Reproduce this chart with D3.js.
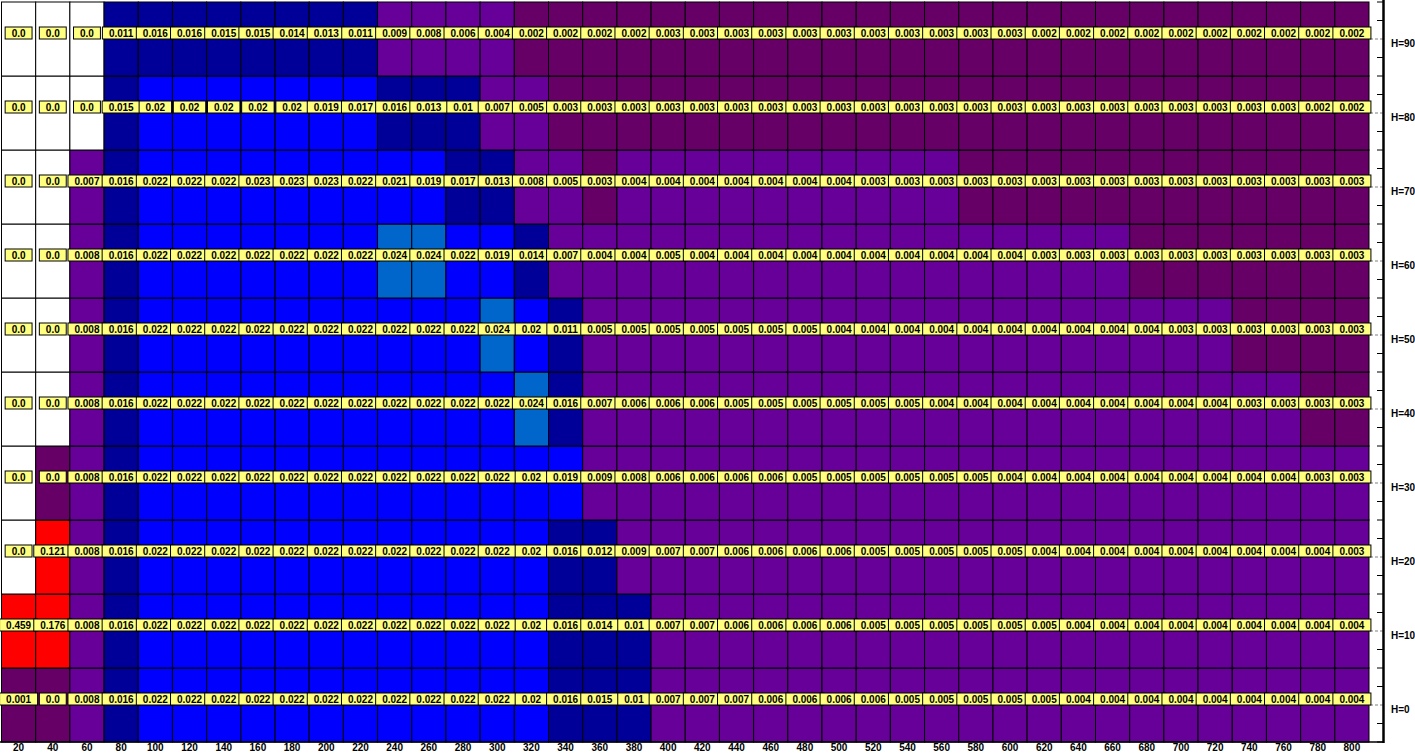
<!DOCTYPE html>
<html>
<head>
<meta charset="utf-8">
<script src="https://cdn.jsdelivr.net/npm/d3@7/dist/d3.min.js"></script>
<style>
html,body{margin:0;padding:0;background:#fff;overflow:hidden}
text{font-family:"Liberation Sans",Arial,sans-serif;font-weight:bold}
</style>
</head>
<body>
<svg id="chart" width="1415" height="753"></svg>
<script>
// ---- data ----
const columns = [20,40,60,80,100,120,140,160,180,200,220,240,260,280,300,320,340,360,380,400,
                 420,440,460,480,500,520,540,560,580,600,620,640,660,680,700,720,740,760,780,800];
const levels = [0,10,20,30,40,50,60,70,80,90];
const levelLabels = ["H=0","H=10","H=20","H=30","H=40","H=50","H=60","H=70","H=80","H=90"];

const rowH90 = [0,0,0,0.011,0.016,0.016,0.015,0.015,0.014,0.013,0.011,0.009,0.008,0.006,0.004,0.002,0.002,0.002,0.002,0.0028,
                0.0028,0.0028,0.0028,0.0028,0.0028,0.0028,0.0028,0.0028,0.0028,0.0028,0.002,0.002,0.002,0.002,0.002,0.002,0.002,0.002,0.002,0.002];
const rowH80 = [0,0,0,0.015,0.02,0.02,0.02,0.02,0.02,0.019,0.0172,0.016,0.013,0.01,0.007,0.005,0.0028,0.0028,0.0028,0.0028,
                0.0028,0.0028,0.0028,0.0028,0.0028,0.0028,0.0028,0.0028,0.0028,0.0028,0.0028,0.0028,0.0028,0.0028,0.0028,0.0028,0.0028,0.0028,0.002,0.002];
const rowH70 = [0,0,0.007,0.016,0.022,0.022,0.022,0.023,0.023,0.023,0.022,0.021,0.019,0.0168,0.013,0.008,0.005,0.0028,0.004,0.004,
                0.004,0.004,0.004,0.004,0.004,0.0032,0.0032,0.0032,0.0028,0.0028,0.0028,0.0028,0.0028,0.0028,0.0028,0.0028,0.0028,0.0028,0.0028,0.0028];
const rowH60 = [0,0,0.008,0.016,0.022,0.022,0.022,0.022,0.022,0.022,0.022,0.024,0.024,0.022,0.019,0.014,0.007,0.004,0.004,0.005,
                0.004,0.004,0.004,0.004,0.004,0.004,0.004,0.004,0.004,0.004,0.0032,0.0032,0.0032,0.0028,0.0028,0.0028,0.0028,0.0028,0.0028,0.0028];
const rowH50 = [0,0,0.008,0.016,0.022,0.022,0.022,0.022,0.022,0.022,0.022,0.022,0.022,0.022,0.024,0.02,0.011,0.005,0.005,0.005,
                0.005,0.005,0.005,0.005,0.004,0.004,0.004,0.004,0.004,0.004,0.004,0.004,0.004,0.004,0.0032,0.0032,0.0028,0.0028,0.0028,0.0028];
const rowH40 = [0,0,0.008,0.016,0.022,0.022,0.022,0.022,0.022,0.022,0.022,0.022,0.022,0.022,0.022,0.024,0.016,0.007,0.006,0.006,
                0.006,0.005,0.005,0.005,0.005,0.005,0.005,0.004,0.004,0.004,0.004,0.004,0.004,0.004,0.004,0.004,0.0032,0.0032,0.0028,0.0028];
const rowH30 = [0,0.0003,0.008,0.016,0.022,0.022,0.022,0.022,0.022,0.022,0.022,0.022,0.022,0.022,0.022,0.02,0.019,0.009,0.008,0.006,
                0.006,0.006,0.006,0.005,0.005,0.005,0.005,0.005,0.005,0.004,0.004,0.004,0.004,0.004,0.004,0.004,0.004,0.004,0.0032,0.0032];
const rowH20 = [0,0.121,0.008,0.016,0.022,0.022,0.022,0.022,0.022,0.022,0.022,0.022,0.022,0.022,0.022,0.02,0.016,0.012,0.009,0.007,
                0.007,0.006,0.006,0.006,0.006,0.005,0.005,0.005,0.005,0.005,0.004,0.004,0.004,0.004,0.004,0.004,0.004,0.004,0.004,0.0032];
const rowH10 = [0.459,0.176,0.008,0.016,0.022,0.022,0.022,0.022,0.022,0.022,0.022,0.022,0.022,0.022,0.022,0.02,0.016,0.014,0.01,0.007,
                0.007,0.006,0.006,0.006,0.006,0.005,0.005,0.005,0.005,0.005,0.005,0.004,0.004,0.004,0.004,0.004,0.004,0.004,0.004,0.004];
const rowH0  = [0.001,0.0003,0.008,0.016,0.022,0.022,0.022,0.022,0.022,0.022,0.022,0.022,0.022,0.022,0.022,0.02,0.016,0.015,0.01,0.007,
                0.007,0.007,0.006,0.006,0.006,0.006,0.005,0.005,0.005,0.005,0.005,0.004,0.004,0.004,0.004,0.004,0.004,0.004,0.004,0.004];

const rowsByLevel = [rowH0,rowH10,rowH20,rowH30,rowH40,rowH50,rowH60,rowH70,rowH80,rowH90];

const colorBreaks = [1e-9, 0.003, 0.0095, 0.017, 0.0235, 0.1];
const colorRange = ["#ffffff","#660066","#660099","#000099","#0000ff","#0066cc","#ff0000"];

// ---- chart ----
const svg = d3.select("#chart");
const x = d3.scaleLinear().domain([10, 810]).range([1.5, 1369]);
const y = d3.scaleLinear().domain([-5, 95]).range([742, 2]);
const color = d3.scaleThreshold().domain(colorBreaks).range(colorRange);
const fmt = v => { let s = d3.format(".3~f")(v); if (s.indexOf(".") < 0) s += ".0"; return s; };

const cells = [];
levels.forEach((h, i) => columns.forEach((c, j) => cells.push({h, c, v: rowsByLevel[i][j]})));

svg.append("g").selectAll("rect").data(cells).join("rect")
  .attr("x", d => x(d.c - 10))
  .attr("y", d => y(d.h + 5))
  .attr("width", d => x(d.c + 10) - x(d.c - 10))
  .attr("height", d => y(d.h - 5) - y(d.h + 5))
  .attr("fill", d => color(d.v))
  .attr("stroke", "#000")
  .attr("stroke-width", 1);

// frame: bottom line + right axis
svg.append("line").attr("x1", 0).attr("x2", 1384).attr("y1", y(-5)).attr("y2", y(-5))
  .attr("stroke", "#000").attr("stroke-width", 1.5);

const axisX = 1383.5;
// major dashed ticks
svg.append("g").selectAll("line").data(levels).join("line")
  .attr("x1", 1370).attr("x2", axisX).attr("y1", d => y(d)).attr("y2", d => y(d))
  .attr("stroke", "#808080").attr("stroke-width", 1.2).attr("stroke-dasharray", "3,2");
// minor ticks
const minor = d3.range(-5, 95.1, 2.5).filter(v => Math.abs(v % 10) > 1e-6);
svg.append("g").selectAll("line").data(minor).join("line")
  .attr("x1", 1377).attr("x2", axisX).attr("y1", d => y(d)).attr("y2", d => y(d))
  .attr("stroke", "#000").attr("stroke-width", 1);
svg.append("line").attr("x1", axisX).attr("x2", axisX).attr("y1", 0).attr("y2", y(-5) + 1)
  .attr("stroke", "#000").attr("stroke-width", 2.5);

svg.append("g").selectAll("text").data(levels).join("text")
  .attr("x", 1391).attr("y", d => y(d) + 8)
  .attr("font-size", 10).attr("fill", "#000")
  .text((d, i) => levelLabels[i]);

// bottom tick labels
svg.append("g").selectAll("text").data(columns).join("text")
  .attr("x", d => x(d)).attr("y", 751)
  .attr("text-anchor", "middle").attr("font-size", 10).attr("fill", "#000")
  .text(d => d);

// value labels
const labG = svg.append("g");
levels.forEach((h, i) => {
  columns.forEach((c, j) => {
    const v = rowsByLevel[i][j];
    const g = labG.append("g");
    const r = g.append("rect").attr("fill", "#ffff80").attr("stroke", "#000").attr("stroke-width", 1);
    const t = g.append("text").attr("x", x(c)).attr("y", y(h) - 2.5)
      .attr("text-anchor", "middle").attr("font-size", 10).attr("fill", "#000").text(fmt(v));
    const w = t.node().getComputedTextLength() + 13;
    r.attr("x", x(c) - w / 2).attr("y", y(h) - 12).attr("width", w).attr("height", 12);
  });
});
</script>
</body>
</html>
